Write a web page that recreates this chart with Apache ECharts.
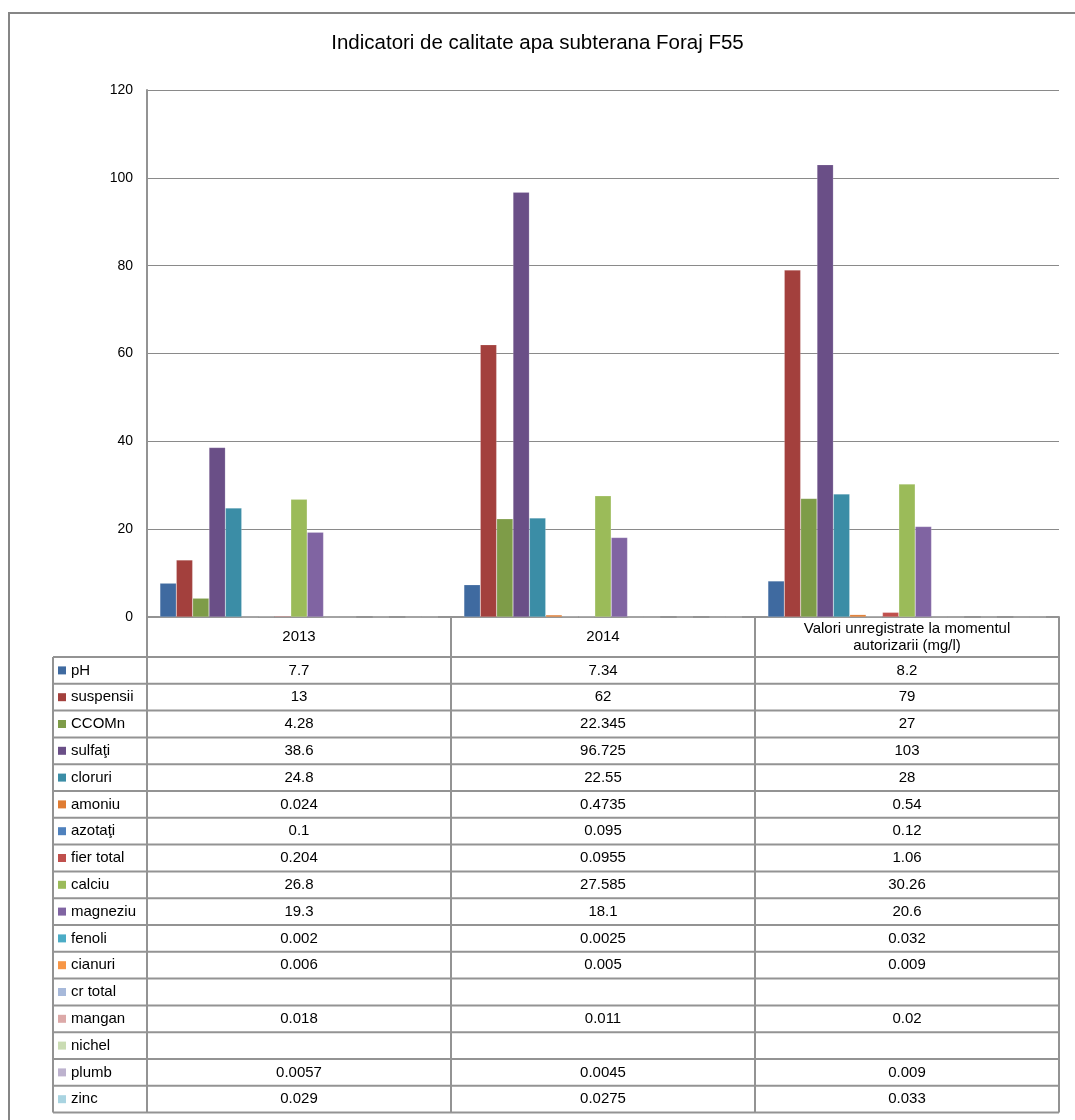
<!DOCTYPE html>
<html>
<head>
<meta charset="utf-8">
<script src="https://cdn.jsdelivr.net/npm/echarts@6/dist/echarts.min.js"></script>
<style>
html,body{margin:0;padding:0;background:#fff;}
#chart{width:1075px;height:1120px;}
</style>
</head>
<body>
<div id="chart"></div>
<script>
// ---- data ----
const categories = ['2013', '2014', 'Valori unregistrate la momentul\nautorizarii (mg/l)'];
const seriesNames = ['pH','suspensii','CCOMn','sulfaţi','cloruri','amoniu','azotaţi','fier total','calciu','magneziu','fenoli','cianuri','cr total','mangan','nichel','plumb','zinc'];
const pH        = [7.7, 7.34, 8.2];
const suspensii = [13, 62, 79];
const CCOMn     = [4.28, 22.345, 27];
const sulfati   = [38.6, 96.725, 103];
const cloruri   = [24.8, 22.55, 28];
const amoniu    = [0.024, 0.4735, 0.54];
const azotati   = [0.1, 0.095, 0.12];
const fierTotal = [0.204, 0.0955, 1.06];
const calciu    = [26.8, 27.585, 30.26];
const magneziu  = [19.3, 18.1, 20.6];
const fenoli    = [0.002, 0.0025, 0.032];
const cianuri   = [0.006, 0.005, 0.009];
const crTotal   = [null, null, null];
const mangan    = [0.018, 0.011, 0.02];
const nichel    = [null, null, null];
const plumb     = [0.0057, 0.0045, 0.009];
const zinc      = [0.029, 0.0275, 0.033];
const seriesValues = [pH, suspensii, CCOMn, sulfati, cloruri, amoniu, azotati, fierTotal, calciu, magneziu, fenoli, cianuri, crTotal, mangan, nichel, plumb, zinc];
const yTicks = [0, 20, 40, 60, 80, 100, 120];

// ---- styles ----
const colors = ['#3F6AA0','#A3403D','#7E9C48','#6A4F87','#3B8DA6','#E07C32',
                '#4F81BD','#C0504D','#9BBB59','#8064A2','#4BACC6','#F79646',
                '#A7B9DA','#DCA9A8','#CADCB3','#BDB2CE','#A9D4E1'];
const FONT = "'Liberation Sans', Arial, sans-serif";
const W = 1075, H = 1120;
const TABLE_LEFT = 53, PLOT_LEFT = 147, PLOT_RIGHT = 1059, PLOT_TOP = 90, PLOT_BOTTOM = 617;
const HEADER_BOTTOM = 657, ROW_H = 26.8;
const LINE = '#939393';
const TXT = 15;

const chart = echarts.init(document.getElementById('chart'), null, {renderer: 'canvas'});

const nCat = categories.length;
const colW = (PLOT_RIGHT - PLOT_LEFT) / nCat;
const tableBottom = HEADER_BOTTOM + ROW_H * seriesNames.length;

const fmt = v => (v === null || v === undefined) ? '' : String(v);

const g = [];
// outer chart border
g.push({type:'rect', shape:{x:9, y:13, width:W, height:H}, style:{fill:'none', stroke:'#868686', lineWidth:2}, z:0, silent:true});
// horizontal row lines
for (let k = 0; k <= seriesNames.length; k++) {
  const y = HEADER_BOTTOM + k * ROW_H;
  g.push({type:'line', shape:{x1:TABLE_LEFT, y1:y, x2:PLOT_RIGHT, y2:y}, style:{stroke:LINE, lineWidth:2}, silent:true});
}
// vertical lines
g.push({type:'line', shape:{x1:TABLE_LEFT, y1:HEADER_BOTTOM, x2:TABLE_LEFT, y2:tableBottom}, style:{stroke:LINE, lineWidth:2}, silent:true});
for (let c = 0; c <= nCat; c++) {
  const x = PLOT_LEFT + c * colW;
  g.push({type:'line', shape:{x1:x, y1:PLOT_BOTTOM, x2:x, y2:tableBottom}, style:{stroke:LINE, lineWidth:2}, silent:true});
}
// row labels with legend keys, and values
seriesNames.forEach((name, i) => {
  const yc = HEADER_BOTTOM + ROW_H * (i + 0.5);
  g.push({type:'rect', shape:{x:TABLE_LEFT + 5, y:yc - 4, width:8, height:8}, style:{fill:colors[i]}, silent:true});
  g.push({type:'text', style:{text:name, x:TABLE_LEFT + 18, y:yc, textAlign:'left', textVerticalAlign:'middle', fontSize:TXT, fontFamily:FONT, fill:'#000'}, silent:true});
  seriesValues[i].forEach((v, c) => {
    g.push({type:'text', style:{text:fmt(v), x:PLOT_LEFT + colW * (c + 0.5), y:yc, textAlign:'center', textVerticalAlign:'middle', fontSize:TXT, fontFamily:FONT, fill:'#000'}, silent:true});
  });
});

const option = {
  backgroundColor: '#fff',
  animation: false,
  title: {
    text: 'Indicatori de calitate apa subterana Foraj F55',
    left: 'center', top: 28,
    textStyle: {fontSize: 20.5, fontWeight: 'normal', fontFamily: FONT, color: '#000'}
  },
  grid: {left: PLOT_LEFT, right: W - PLOT_RIGHT, top: PLOT_TOP, bottom: H - PLOT_BOTTOM, containLabel: false},
  xAxis: {
    type: 'category',
    data: categories,
    axisLine: {show: true, lineStyle: {color: LINE, width: 2}},
    axisTick: {show: false},
    axisLabel: {interval: 0, margin: 20, verticalAlign: 'middle', fontSize: TXT, lineHeight: 17, fontFamily: FONT, color: '#000', align: 'center'}
  },
  yAxis: {
    type: 'value', min: 0, max: 120, interval: 20,
    axisLine: {show: true, lineStyle: {color: LINE, width: 2}},
    axisTick: {show: false},
    splitLine: {show: true, lineStyle: {color: '#8a8a8a', width: 1}},
    axisLabel: {margin: 14, fontSize: 14, fontFamily: FONT, color: '#000',
      formatter: v => yTicks.indexOf(v) >= 0 ? String(v) : ''}
  },
  series: seriesNames.map((name, i) => ({
    name: name,
    type: 'bar',
    data: seriesValues[i],
    barGap: '0%',
    barCategoryGap: '8.5%',
    itemStyle: {color: colors[i], borderColor: 'rgba(255,255,255,0.35)', borderWidth: 0.5},
    emphasis: {disabled: true}
  })),
  graphic: {elements: g}
};
chart.setOption(option);
</script>
</body>
</html>
